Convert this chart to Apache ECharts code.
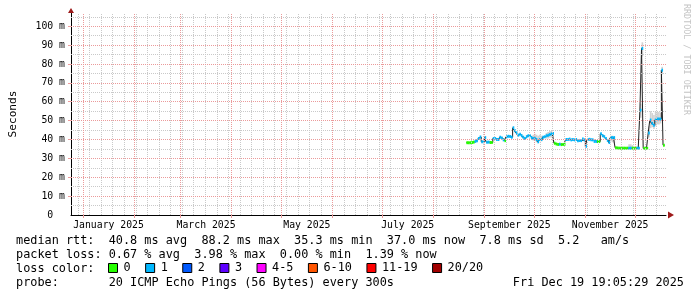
<!DOCTYPE html>
<html>
<head>
<meta charset="utf-8">
<script src="https://cdn.jsdelivr.net/npm/echarts@6/dist/echarts.min.js"></script>
<style>
html,body{margin:0;padding:0;background:#ffffff;}
#chart{width:697px;height:297px;}
</style>
</head>
<body>
<div id="chart"></div>
<script>
// ---------------- data ----------------
const graphStart = '2024-12-24T19:05:29Z';
const graphEnd = '2025-12-19T19:05:29Z';
const startDate = '2025-08-21';          // first day with a measurement
// median rtt per day (ms), one value per day from startDate
const medianMs = [
  38.3, 38.3, 38.3, 38.4, 38.6, 39.0, 39.3, 40.5, 41.3, 38.8,
  38.8, 41.0, 38.6, 38.6, 38.4, 38.4, 40.5, 40.5, 40.0, 40.0,
  41.2, 40.8, 39.8, 39.4, 41.5, 41.7, 41.6, 41.2, 46.2, 44.6,
  43.5, 42.3, 42.8, 42.0, 41.2, 40.5, 41.5, 42.0, 42.0, 41.0,
  40.5, 40.6, 40.0, 38.8, 40.0, 40.0, 41.2, 41.5, 42.0, 42.3,
  42.6, 43.0, 43.2, 38.0, 37.6, 37.3, 37.5, 37.3, 37.3, 37.5,
  40.0, 40.0, 40.2, 39.8, 40.0, 39.8, 40.0, 39.3, 39.5, 39.4,
  40.2, 39.8, 36.4, 40.0, 40.1, 39.8, 39.8, 39.0, 38.9, 38.9,
  38.9, 43.0, 42.0, 41.5, 40.5, 39.5, 38.4, 41.0, 41.0, 41.0,
  35.6, 35.5, 35.4, 35.4, 35.4, 35.4, 35.4, 35.4, 35.4, 35.4,
  35.4, 35.4, 35.4, 35.4, 35.4, 55.5, 88.2, 35.3, 35.3, 35.3,
  43.4, 50.3, 48.5, 47.6, 50.3, 50.8, 50.8, 50.8, 76.7, 37.0
];
// loss colour index per day (0 = "0", 1 = "1", ...)
const lossLevel = [
  0, 0, 0, 0, 0, 1, 1, 1, 1, 1,
  1, 1, 1, 1, 0, 0, 1, 1, 1, 1,
  1, 1, 1, 0, 1, 1, 1, 1, 1, 1,
  1, 1, 1, 1, 1, 1, 1, 1, 1, 1,
  1, 1, 1, 1, 1, 1, 1, 1, 1, 1,
  1, 1, 1, 0, 0, 0, 1, 0, 0, 0,
  1, 1, 1, 1, 1, 1, 1, 1, 1, 1,
  1, 1, 1, 1, 1, 1, 1, 1, 1, 0,
  0, 1, 1, 1, 1, 1, 1, 1, 1, 1,
  0, 0, 0, 0, 0, 0, 0, 0, 1, 1,
  0, 0, 0, 1, 1, 1, 1, 0, 0, 0,
  1, 1, 1, 1, 1, 1, 1, 1, 1, 0
];
// visible smoke (ping spread) on some days
const smokeDate = ['2025-09-30','2025-10-01','2025-10-02','2025-10-03','2025-10-04','2025-10-05',
  '2025-10-08','2025-10-09','2025-10-10','2025-10-11','2025-10-12',
  '2025-11-16','2025-11-17','2025-11-18','2025-11-27','2025-11-28','2025-11-29',
  '2025-12-04','2025-12-05','2025-12-09','2025-12-10','2025-12-11','2025-12-12',
  '2025-12-13','2025-12-14','2025-12-15','2025-12-16','2025-12-17'];
const smokeLo = [39.5, 39.5, 38.5, 38.0, 39.0, 39.0,
  40.5, 40.5, 41.0, 41.0, 41.0,
  39.0, 38.5, 38.0, 35.0, 35.0, 35.0,
  51.5, 84.0, 41.0, 46.0, 46.5, 45.5,
  47.0, 48.0, 48.0, 48.5, 74.5];
const smokeHi = [42.5, 43.0, 42.5, 42.0, 42.5, 42.0,
  43.5, 44.0, 44.5, 44.5, 44.0,
  42.0, 42.0, 41.5, 37.5, 37.5, 37.0,
  59.0, 91.5, 47.0, 55.0, 54.0, 53.0,
  55.0, 54.5, 54.5, 54.0, 78.5];

const lossNames = ['0', '1', '2', '3', '4-5', '6-10', '11-19', '20/20'];
const lossColors = ['#26ff00', '#00b8ff', '#0059ff', '#5e00ff', '#ff00ff', '#ff5500', '#ff0000', '#a10000'];

const monthLabels = ['January 2025', 'March 2025', 'May 2025', 'July 2025', 'September 2025', 'November 2025'];
const monthLabelStart = ['2025-01-01', '2025-03-01', '2025-05-01', '2025-07-01', '2025-09-01', '2025-11-01'];
const yMajor = [10, 20, 30, 40, 50, 60, 70, 80, 90, 100];
const yMinor = [5, 15, 25, 35, 45, 55, 65, 75, 85, 95, 105];

const statRtt = 'median rtt:  40.8 ms avg  88.2 ms max  35.3 ms min  37.0 ms now  7.8 ms sd  5.2   am/s';
const statLoss = 'packet loss: 0.67 % avg  3.98 % max  0.00 % min  1.39 % now';
const lossTitle = 'loss color:';
const probeTitle = 'probe:       20 ICMP Echo Pings (56 Bytes) every 300s';
const stampText = 'Fri Dec 19 19:05:29 2025';
const watermark = 'RRDTOOL / TOBI OETIKER';

// ---------------- helpers ----------------
const MONO = '"DejaVu Sans Mono", "Liberation Mono", monospace';
const FS = 11.85;     // legend text
const FA = 9.8;       // axis tick labels
const FN = 11.1;      // axis title
const DAY = 86400000;
const T0 = Date.UTC(2025, 0, 1);
const dayNum = s => (Date.parse(s.length <= 10 ? s + 'T00:00:00Z' : s) - T0) / DAY;

const xMin = dayNum(graphStart);
const xMax = dayNum(graphEnd);
const d0 = dayNum(startDate);
const days = medianMs.map((_, i) => d0 + i);

const monthStarts = [];
for (let m = 0; m < 12; m++) monthStarts.push((Date.UTC(2025, m, 1) - T0) / DAY);
const weekLines = [];
for (let w = -3; w <= xMax; w += 7) if (monthStarts.indexOf(w) < 0 && w > xMin) weekLines.push(w);
const labelPos = monthLabelStart.map(s => {
  const dt = new Date(s + 'T00:00:00Z');
  const len = (Date.UTC(dt.getUTCFullYear(), dt.getUTCMonth() + 1, 1) - dt.getTime()) / DAY;
  return dayNum(s) + len / 2;
});

const GRAY = '#c9c9c9', RED = '#eb9a9a';
const gridMarks = [];
weekLines.forEach(v => gridMarks.push({xAxis: v, lineStyle: {color: GRAY, type: [1, 1], width: 1}}));
yMinor.forEach(v => gridMarks.push({yAxis: v, lineStyle: {color: GRAY, type: [1, 1], width: 1}}));
monthStarts.forEach(v => gridMarks.push({xAxis: v, lineStyle: {color: RED, type: [1, 1], width: 1}}));
yMajor.forEach(v => gridMarks.push({yAxis: v, lineStyle: {color: RED, type: [1, 1], width: 1}}));

const linePts = days.map((d, i) => [d, medianMs[i]]);
linePts.push([days[days.length - 1] + 1, medianMs[medianMs.length - 1]]);

const smokeData = smokeDate.map((s, i) => [dayNum(s), smokeLo[i], smokeHi[i]]);

const textEl = (x, y, text, extra) => ({
  type: 'text', x: x, y: y, silent: true,
  style: Object.assign({text: text, fontFamily: MONO, fontSize: FS, fill: '#000', align: 'left', verticalAlign: 'middle'}, extra || {})
});

const series = [];
series.push({
  type: 'line', name: 'grid', data: [[xMin, 0]], showSymbol: false, silent: true, z: 0,
  lineStyle: {opacity: 0}, animation: false,
  markLine: {silent: true, symbol: ['none', 'none'], label: {show: false}, animation: false, data: gridMarks}
});
series.push({
  type: 'custom', name: 'smoke', coordinateSystem: 'cartesian2d', z: 1, silent: true,
  data: smokeData, encode: {x: 0, y: [1, 2]},
  renderItem: (params, api) => {
    const a = api.coord([api.value(0), api.value(2)]);
    const b = api.coord([api.value(0) + 1, api.value(1)]);
    return {type: 'rect', shape: {x: a[0], y: a[1], width: b[0] - a[0], height: b[1] - a[1]}, style: {fill: '#d2d2d2'}};
  }
});
series.push({
  type: 'line', name: 'median', data: linePts, step: 'end', showSymbol: false, silent: true, z: 2,
  lineStyle: {color: '#202020', width: 1}, animation: false
});
lossNames.forEach((nm, li) => {
  const c = lossColors[li];
  series.push({
    type: 'custom', name: nm, coordinateSystem: 'cartesian2d', z: 3, silent: true,
    itemStyle: {color: c},
    data: days.map((d, i) => lossLevel[i] === li ? [d, medianMs[i]] : null).filter(p => p),
    encode: {x: 0, y: 1},
    renderItem: (params, api) => {
      const a = api.coord([api.value(0), api.value(1)]);
      const b = api.coord([api.value(0) + 1, api.value(1)]);
      return {type: 'rect', shape: {x: a[0], y: a[1] - 1.5, width: b[0] - a[0], height: 3}, style: {fill: c}};
    }
  });
});

const option = {
  backgroundColor: '#ffffff',
  animation: false,
  grid: {left: 66, right: 31, top: 13, bottom: 82, containLabel: false},
  xAxis: [
    {
      type: 'value', min: xMin, max: xMax,
      axisLine: {show: true, onZero: false, lineStyle: {color: '#000', width: 1}},
      axisTick: {show: true, customValues: monthStarts, length: 3, lineStyle: {color: RED}},
      axisLabel: {
        customValues: labelPos, margin: 5, color: '#000', fontFamily: MONO, fontSize: FA,
        formatter: v => { const k = labelPos.findIndex(p => Math.abs(p - v) < 1e-6); return k >= 0 ? monthLabels[k] : ''; }
      },
      splitLine: {show: false}
    },
    {
      type: 'value', min: xMin, max: xMax, position: 'bottom',
      axisLine: {show: true, onZero: false, symbol: ['none', 'triangle'], symbolSize: [7, 6], symbolOffset: [0, 5],
        lineStyle: {color: '#9e1b1b', width: 0}},
      axisTick: {show: false}, axisLabel: {show: false}, splitLine: {show: false}
    }
  ],
  yAxis: [
    {
      type: 'value', min: 0, max: 107, interval: 10,
      name: 'Seconds', nameLocation: 'middle', nameGap: 52,
      nameTextStyle: {color: '#000', fontFamily: MONO, fontSize: FN},
      axisLine: {show: true, onZero: false, lineStyle: {color: '#000', width: 1}},
      axisTick: {show: true, customValues: yMajor, length: 3, lineStyle: {color: RED}},
      axisLabel: {
        margin: 6, color: '#000', fontFamily: MONO, fontSize: FA, showMaxLabel: false,
        formatter: v => (v % 10 !== 0) ? '' : (v === 0 ? '0  ' : v + ' m')
      },
      splitLine: {show: false}
    },
    {
      type: 'value', min: 0, max: 107, position: 'left',
      axisLine: {show: true, onZero: false, symbol: ['none', 'triangle'], symbolSize: [6, 5], symbolOffset: [0, 2.5],
        lineStyle: {color: '#9e1b1b', width: 0}},
      axisTick: {show: false}, axisLabel: {show: false}, splitLine: {show: false}
    }
  ],
  legend: {
    left: 108, top: 262, padding: 0, itemGap: 14.5, itemWidth: 9, itemHeight: 9, icon: 'rect',
    selectedMode: false, data: lossNames,
    itemStyle: {borderColor: '#000', borderWidth: 1},
    textStyle: {color: '#000', fontFamily: MONO, fontSize: FS, padding: [0, 0, 0, 1]}
  },
  graphic: [
    textEl(16, 241, statRtt),
    textEl(16, 255, statLoss),
    textEl(16, 269, lossTitle),
    textEl(16, 283, probeTitle),
    textEl(684, 283, stampText, {align: 'right'}),
    {
      type: 'text', x: 686, y: 4, rotation: -Math.PI / 2, silent: true,
      style: {text: watermark, fontFamily: MONO, fontSize: 8.4, fill: '#c4c4c4', align: 'left', verticalAlign: 'middle'}
    }
  ],
  series: series
};

const chart = echarts.init(document.getElementById('chart'), null, {renderer: 'canvas'});
chart.setOption(option);
</script>
</body>
</html>
